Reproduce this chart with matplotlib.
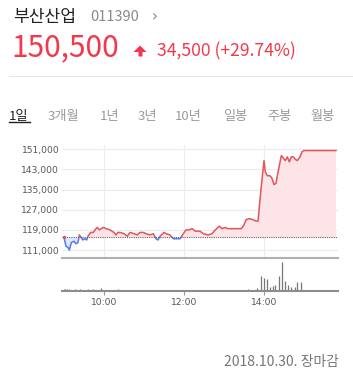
import matplotlib
matplotlib.use('Agg')
import matplotlib.pyplot as plt
from matplotlib.patches import Rectangle, Polygon
from matplotlib.lines import Line2D
import numpy as np

plt.rcParams['font.family'] = ['Noto Sans CJK KR', 'DejaVu Sans']

# ---------------- data ----------------
stock_name = '부산산업'
stock_code = '011390'
last_price = '150,500'
change_text = '34,500 (+29.74%)'
prev_close = 116000
period_tabs = ['1일', '3개월', '1년', '3년', '10년', '일봉', '주봉', '월봉']
date_label = '2018.10.30. 장마감'

# minutes after 09:00
minutes = [0, 3, 6, 8, 11, 15, 18, 21, 23, 26, 28, 31, 34, 36, 40, 44, 48, 50, 53, 56,
           59, 63, 69, 75, 78, 81, 84, 90, 95, 99, 105, 110, 114, 119, 123, 129, 134, 138, 141, 144,
           150, 153, 159, 164, 168, 174, 179, 183, 188, 192, 197, 204, 209, 216, 222, 227, 233, 237, 242, 245,
           249, 258, 266, 270, 273, 278, 284, 288, 291, 294, 297, 300, 302, 305, 309, 312, 315, 318, 320, 323,
           326, 329, 332, 335, 338, 341, 344, 347, 350, 354, 357, 360, 408]
prices = [116000, 112500, 112000, 111000, 114000, 114500, 113500, 114000, 117000, 116000,
          115000, 115500, 115000, 116500, 118000, 118000, 119500, 120000, 119000, 119500,
          120000, 119500, 119000, 118000, 117000, 118000, 118000, 117500, 116500, 118000,
          117500, 117000, 118000, 118000, 117500, 117000, 117500, 115500, 115000, 116500,
          118000, 117500, 117000, 115500, 115500, 115500, 117500, 119000, 119000, 119500,
          118500, 118500, 117500, 117000, 117500, 119000, 120500, 119500, 120000, 119500,
          119500, 119500, 119500, 121000, 123000, 123500, 123000, 122500, 122500, 131000,
          139000, 146500, 142000, 140500, 140500, 139500, 137000, 137500, 140500, 144500,
          148500, 147500, 146500, 148000, 146000, 148000, 148000, 147000, 146500, 148000,
          150000, 150500, 150500]

vol_minutes = [0, 2, 4, 6, 8, 12, 17, 24, 30, 36, 44, 56, 81,
               276, 290, 295, 300, 305, 309, 313, 316, 322, 327, 332, 336, 341, 346, 350, 355]
volumes = [18000, 15000, 18000, 12000, 15000, 12000, 15000, 18000, 12000, 18000, 15000, 34000, 15000,
           24000, 30000, 150000, 124000, 117000, 40000, 47000, 57000, 150000, 290000, 97000, 57000,
           40000, 40000, 90000, 90000]

price_ticks = [111000, 119000, 127000, 135000, 143000, 151000]
time_ticks = [60, 180, 300]
time_labels = ['10:00', '12:00', '14:00']

# ---------------- layout helpers (pixels) ----------------
W, H = 353, 383
fig = plt.figure(figsize=(W / 100, H / 100), dpi=100)
fig.patch.set_facecolor('white')

def fx(x):
    return x / W

def fy(y):
    return 1 - y / H

RED = '#f2394b'
LINE_RED = '#e2555c'
FILL_RED = '#fde4e6'
LINE_BLUE = '#4f7de8'
FILL_BLUE = '#dfe8fb'

# ---------------- header ----------------
fig.text(fx(13), fy(22), stock_name, fontsize=12.3, color='#222222', va='baseline')
fig.text(fx(90), fy(21), stock_code, fontsize=10.5, color='#8a8a8a', va='baseline')
fig.text(fx(152), fy(21), '›', fontsize=11, color='#8a8a8a', va='baseline', family='DejaVu Sans')
fig.text(fx(11), fy(56), last_price, fontsize=21.5, color=RED, va='baseline')
arrow = Polygon([[fx(133.5), fy(52)], [fx(140), fy(45.5)], [fx(146.5), fy(52)],
                 [fx(142.5), fy(52)], [fx(142.5), fy(56.5)], [fx(138.5), fy(56.5)],
                 [fx(138.5), fy(52)]], closed=True, transform=fig.transFigure,
                facecolor=RED, edgecolor='none')
fig.patches.append(arrow)
fig.text(fx(157), fy(56.5), change_text, fontsize=12.6, color=RED, va='baseline')
fig.lines.append(Line2D([fx(9), fx(353)], [fy(76), fy(76)], transform=fig.transFigure,
                        color='#e6e6e6', lw=0.8))

tab_x = [9, 48, 100, 138, 175, 223, 267, 310]
for i, (lab, x) in enumerate(zip(period_tabs, tab_x)):
    col = '#222222' if i == 0 else '#9a9a9a'
    fig.text(fx(x), fy(120), lab, fontsize=9.5, color=col, va='baseline')
fig.lines.append(Line2D([fx(9), fx(30)], [fy(122), fy(122)], transform=fig.transFigure,
                        color='#222222', lw=1))

# ---------------- price panel ----------------
ax = fig.add_axes([fx(62), fy(258), fx(338) - fx(62), fy(145) - fy(258)])
ax.set_xlim(-3, 411)
ax.set_ylim(107850, 152700)

t = np.array(minutes)
p = np.array(prices)
ax.fill_between(t, p, prev_close, where=p >= prev_close, interpolate=True,
                color=FILL_RED, lw=0)
ax.fill_between(t, p, prev_close, where=p <= prev_close, interpolate=True,
                color=FILL_BLUE, lw=0)

up, = ax.plot(t, p, color=LINE_RED, lw=1.1)
dn, = ax.plot(t, p, color=LINE_BLUE, lw=1.1)
clip_up = Rectangle((-10, prev_close), 500, 60000, transform=ax.transData)
clip_dn = Rectangle((-10, prev_close - 60000), 500, 60000, transform=ax.transData)
up.set_clip_path(clip_up)
dn.set_clip_path(clip_dn)

ax.axhline(prev_close, color='#666666', lw=0.8, ls=(0, (1, 1)))
ax.plot([t[0]], [prev_close], 'o', ms=2.5, color=LINE_RED, mec='none')

ax.set_yticks(price_ticks)
ax.set_yticklabels(['{:,}'.format(v) for v in price_ticks])
ax.set_xticks(time_ticks)
ax.set_xticklabels([])
ax.grid(True, color='#ececec', lw=0.8)
ax.set_axisbelow(True)
ax.tick_params(axis='both', length=0, pad=2, labelsize=6.6, labelcolor='#555555')
for lab in ax.get_yticklabels():
    lab.set_family('DejaVu Sans')
for s in ['top', 'left', 'right']:
    ax.spines[s].set_visible(False)
ax.spines['bottom'].set_color('#b0b0b0')
ax.spines['bottom'].set_linewidth(1.5)

# ---------------- volume panel ----------------
axv = fig.add_axes([fx(62), fy(291), fx(338) - fx(62), fy(260) - fy(291)])
axv.set_xlim(-3, 411)
axv.set_ylim(0, 307000)
axv.vlines(vol_minutes, 0, volumes, color='#777777', lw=0.9)
axv.set_yticks([])
axv.set_xticks(time_ticks)
axv.set_xticklabels(time_labels)
axv.tick_params(axis='x', length=3, width=0.8, color='#999999', pad=2,
                labelsize=6.6, labelcolor='#555555')
for lab in axv.get_xticklabels():
    lab.set_family('DejaVu Sans')
for s in ['top', 'left', 'right']:
    axv.spines[s].set_visible(False)
axv.spines['bottom'].set_color('#8c8c8c')
axv.spines['bottom'].set_linewidth(1.5)
axv.patch.set_alpha(0)

# ---------------- footer ----------------
fig.text(fx(339), fy(366), date_label, fontsize=10, color='#777777', va='baseline', ha='right')

fig.savefig('out.png', dpi=100)
